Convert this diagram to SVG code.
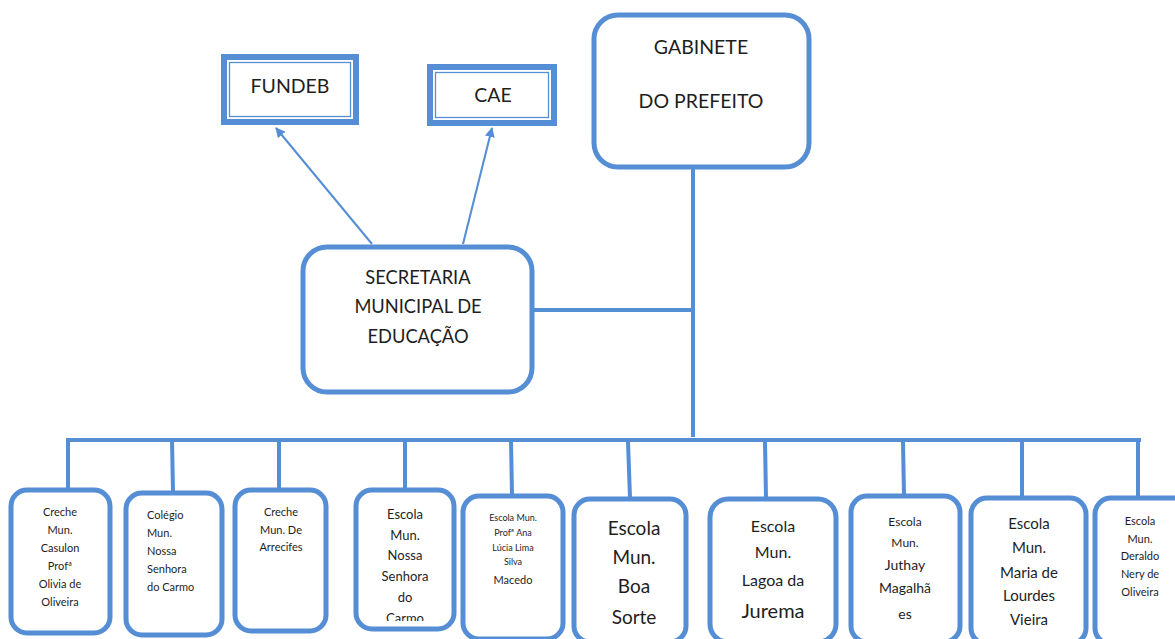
<svg xmlns="http://www.w3.org/2000/svg" width="1175" height="639" viewBox="0 0 1175 639">
<style>
.box{fill:#fff;stroke:#558ED5;stroke-width:5}
.frame{fill:#fff;stroke:#558ED5;stroke-width:6}
.inner{fill:none;stroke:#558ED5;stroke-width:1.3}
.ln{stroke:#558ED5;stroke-width:4;fill:none}
.ar{stroke:#558ED5;stroke-width:2;fill:none}
text{font-family:Lato,"Open Sans","Liberation Sans",sans-serif;fill:#1e1e1e;text-anchor:middle}
.l{text-anchor:start}
</style>
<defs>
<marker id="arr" viewBox="0 0 10 10" refX="9" refY="5" markerWidth="5" markerHeight="5" orient="auto" markerUnits="strokeWidth">
<path d="M0,0 L10,5 L0,10 z" fill="#558ED5"/>
</marker>
<clipPath id="clip4"><rect x="355" y="489" width="100" height="132"/></clipPath>
</defs>
<g id="connectors">
<line class="ar" x1="372" y1="244" x2="276" y2="128" marker-end="url(#arr)"/>
<line class="ar" x1="463" y1="244" x2="492" y2="128" marker-end="url(#arr)"/>
<line class="ln" x1="693" y1="168" x2="693" y2="437"/>
<line class="ln" x1="533" y1="310" x2="693" y2="310"/>
<line class="ln" x1="66" y1="440" x2="1141" y2="440"/>
<line class="ln" x1="68" y1="440" x2="68" y2="489"/>
<line class="ln" x1="172" y1="440" x2="173" y2="492"/>
<line class="ln" x1="279" y1="440" x2="279" y2="489"/>
<line class="ln" x1="405" y1="440" x2="405" y2="489"/>
<line class="ln" x1="511" y1="440" x2="512" y2="495"/>
<line class="ln" x1="628" y1="442" x2="630" y2="498"/>
<line class="ln" x1="765" y1="442" x2="766" y2="498"/>
<line class="ln" x1="903" y1="442" x2="904" y2="495"/>
<line class="ln" x1="1022" y1="442" x2="1022" y2="497"/>
<line class="ln" x1="1138" y1="442" x2="1138" y2="497"/>
</g>
<g id="gabinete">
<rect class="box" x="594" y="15" width="215" height="152" rx="24"/>
<text x="701" y="54" font-size="19.5">GABINETE</text>
<text x="701" y="108" font-size="19.5">DO PREFEITO</text>
</g>
<g id="fundeb">
<rect class="frame" x="224" y="57" width="132" height="65"/>
<rect class="inner" x="229.5" y="62.5" width="121" height="54"/>
<text x="290" y="93" font-size="19.5">FUNDEB</text>
</g>
<g id="cae">
<rect class="frame" x="430" y="67" width="124" height="56"/>
<rect class="inner" x="435.5" y="72.5" width="113" height="45"/>
<text x="493" y="102" font-size="19.5">CAE</text>
</g>
<g id="secretaria">
<rect class="box" x="303" y="247" width="229" height="145" rx="24"/>
<text x="418" y="284" font-size="18.3">SECRETARIA</text>
<text x="418" y="313" font-size="18.3">MUNICIPAL DE</text>
<text x="418" y="343" font-size="18.3">EDUCAÇÃO</text>
</g>
<g id="s1">
<rect class="box" x="11" y="490" width="99" height="143" rx="16"/>
<text x="60" y="516" font-size="11">Creche</text>
<text x="60" y="534" font-size="11">Mun.</text>
<text x="60" y="552" font-size="11">Casulon</text>
<text x="60" y="570" font-size="11">Profª</text>
<text x="60" y="588" font-size="11">Olivia de</text>
<text x="60" y="606" font-size="11">Oliveira</text>
</g>
<g id="s2">
<rect class="box" x="126" y="493" width="96" height="142" rx="16"/>
<text class="l" x="147" y="519" font-size="11">Colégio</text>
<text class="l" x="147" y="537" font-size="11">Mun.</text>
<text class="l" x="147" y="555" font-size="11">Nossa</text>
<text class="l" x="147" y="573" font-size="11">Senhora</text>
<text class="l" x="147" y="591" font-size="11">do Carmo</text>
</g>
<g id="s3">
<rect class="box" x="235" y="490" width="91" height="141" rx="16"/>
<text x="281" y="516" font-size="11">Creche</text>
<text x="281" y="534" font-size="11">Mun. De</text>
<text x="281" y="551" font-size="11">Arrecifes</text>
</g>
<g id="s4">
<rect class="box" x="356" y="490" width="98" height="139" rx="16"/>
<g clip-path="url(#clip4)">
<text x="405" y="519" font-size="13">Escola</text>
<text x="405" y="540" font-size="13">Mun.</text>
<text x="405" y="560" font-size="13">Nossa</text>
<text x="405" y="581" font-size="13">Senhora</text>
<text x="405" y="602" font-size="13">do</text>
<text x="405" y="623" font-size="13">Carmo</text>
</g>
</g>
<g id="s5">
<rect class="box" x="463" y="496" width="100" height="143" rx="16"/>
<text x="513" y="521" font-size="9">Escola Mun.</text>
<text x="513" y="536" font-size="9">Profª Ana</text>
<text x="513" y="551" font-size="9">Lúcia Lima</text>
<text x="513" y="565" font-size="9">Silva</text>
<text x="513" y="584" font-size="11">Macedo</text>
</g>
<g id="s6">
<rect class="box" x="574" y="499" width="112" height="143" rx="16"/>
<text x="634" y="535" font-size="19">Escola</text>
<text x="634" y="564" font-size="19">Mun.</text>
<text x="634" y="593" font-size="19">Boa</text>
<text x="634" y="624" font-size="19">Sorte</text>
</g>
<g id="s7">
<rect class="box" x="710" y="499" width="126" height="143" rx="18"/>
<text x="773" y="532" font-size="16">Escola</text>
<text x="773" y="558" font-size="16">Mun.</text>
<text x="773" y="586" font-size="16">Lagoa da</text>
<text x="773" y="618" font-size="20">Jurema</text>
</g>
<g id="s8">
<rect class="box" x="851" y="496" width="109" height="146" rx="16"/>
<text x="905" y="526" font-size="12">Escola</text>
<text x="905" y="547" font-size="12">Mun.</text>
<text x="905" y="570" font-size="14">Juthay</text>
<text x="905" y="593" font-size="14">Magalhã</text>
<text x="905" y="619" font-size="14">es</text>
</g>
<g id="s9">
<rect class="box" x="971" y="498" width="115" height="146" rx="16"/>
<text x="1029" y="529" font-size="15">Escola</text>
<text x="1029" y="553" font-size="15">Mun.</text>
<text x="1029" y="578" font-size="15">Maria de</text>
<text x="1029" y="601" font-size="15">Lourdes</text>
<text x="1029" y="625" font-size="15">Vieira</text>
</g>
<g id="s10">
<rect class="box" x="1095" y="498" width="100" height="146" rx="16"/>
<text x="1140" y="525" font-size="11">Escola</text>
<text x="1140" y="543" font-size="11">Mun.</text>
<text x="1140" y="560" font-size="11">Deraldo</text>
<text x="1140" y="578" font-size="11">Nery de</text>
<text x="1140" y="596" font-size="11">Oliveira</text>
</g>
</svg>
